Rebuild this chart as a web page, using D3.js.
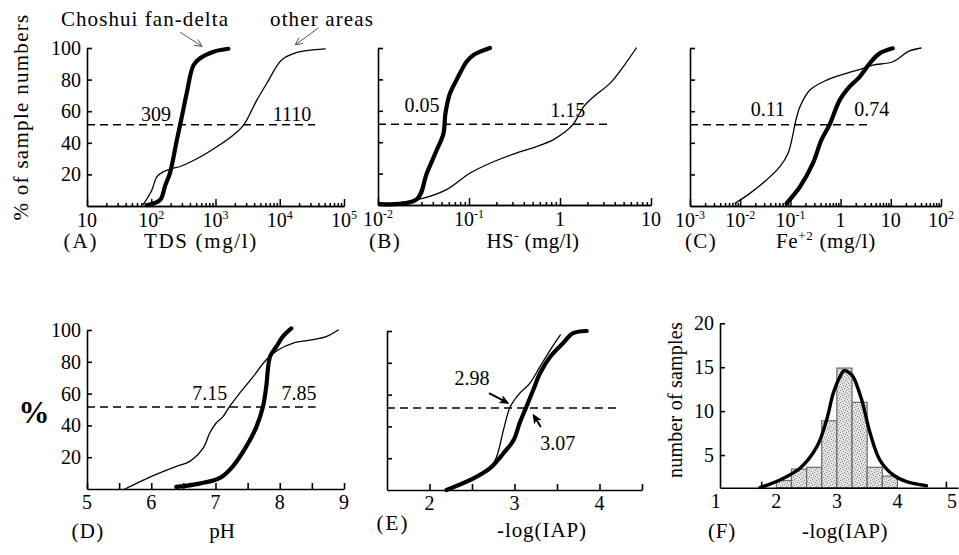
<!DOCTYPE html>
<html><head><meta charset="utf-8">
<script src="https://cdn.jsdelivr.net/npm/d3@7"></script>
<style>
html,body{margin:0;padding:0;background:#fff;}
svg{display:block;}
text{font-family:"Liberation Serif","Times New Roman",serif;fill:#000;}
</style></head><body>
<svg id="chart" width="959" height="555"></svg>
<script>
// ---------------- DATA ----------------
// (A) TDS (mg/l) cumulative % of samples
const tdsChoshui = [[85,0.5],[137,3.8],[165,13],[196,21],[251,42],[299,56.5],[355,71],[453,89],[575,93.5],[935,97.7],[1585,99.5]];
const tdsOther   = [[75,1],[102,10],[122,18.5],[154,21.7],[200,23.5],[282,25],[575,31],[1047,37.5],[1900,45],[2720,51],[4400,67],[6300,77.7],[10700,92.4],[18600,97.2],[51000,99.5]];
const tdsTicks = [10,100,1000,10000,100000];
const tdsTickLabels = [["10",""],["10","2"],["10","3"],["10","4"],["10","5"]];
// (B) HS- (mg/l)
const hsChoshui = [[0.0105,0.5],[0.0266,3.6],[0.0343,20],[0.0442,35],[0.0524,45.6],[0.055,58],[0.0617,71],[0.073,79.7],[0.0944,91.4],[0.112,95.6],[0.17,100]];
const hsOther   = [[0.0105,0],[0.0266,3.2],[0.056,9.6],[0.102,20.2],[0.17,26.6],[0.33,33],[0.55,37.2],[0.84,41.5],[1.09,45.8],[1.40,51.5],[1.82,62.7],[2.34,69],[3.56,77.6],[4.97,88.2],[6.9,100]];
const hsTicks = [0.01,0.1,1,10];
const hsTickLabels = [["10","-2"],["10","-1"],["1",""],["10",""]];
// (C) Fe+2 (mg/l)
const feChoshui = [[0.0836,1.7],[0.155,12.2],[0.28,27],[0.415,41.8],[0.607,51.7],[0.96,67],[1.51,75.5],[2.4,81.8],[3.8,90.3],[6.0,96.6],[11,99.8]];
const feOther   = [[0.0079,1.7],[0.0156,8],[0.0335,16.5],[0.0617,24.9],[0.09,33.4],[0.1135,46],[0.123,51.7],[0.155,62.8],[0.245,73.4],[0.53,79.7],[1.3,84],[2.8,87.1],[4.4,89.2],[11,91.3],[23,98],[40,100]];
const feTicks = [0.001,0.01,0.1,1,10,100];
const feTickLabels = [["10","-3"],["10","-2"],["10","-1"],["1",""],["10",""],["10","2"]];
// (D) pH
const phChoshui = [[6.39,1.3],[6.75,3.4],[7.07,7],[7.27,14.3],[7.48,26.8],[7.64,39.4],[7.74,52],[7.79,64.5],[7.85,83.4],[7.95,89.7],[8.05,96],[8.18,101]];
const phOther   = [[5.59,0],[5.98,7.5],[6.39,14.2],[6.6,17.4],[6.81,25.8],[6.91,35.2],[7.01,41.5],[7.12,45.7],[7.22,52],[7.38,60.4],[7.59,70.8],[7.79,81.3],[7.98,87.6],[8.21,91.8],[8.52,93.9],[8.73,96],[8.91,100]];
const phTicks = [5,6,7,8,9];
// (E) -log(IAP)
const iapChoshui = [[2.2,0],[2.48,6.3],[2.71,13.6],[2.87,23.1],[2.99,31.4],[3.06,42],[3.14,52.4],[3.22,62.9],[3.30,73.4],[3.42,83.8],[3.57,92.3],[3.69,98.6],[3.85,100]];
const iapOther   = [[2.2,0],[2.48,6.3],[2.71,13.6],[2.79,21],[2.87,37.7],[2.95,52.4],[3.06,60.8],[3.18,67.1],[3.30,77.6],[3.42,88],[3.54,97.5]];
const iapTicks = [2,3,4];
// (F) histogram of -log(IAP)
const binStarts = [2.0,2.25,2.5,2.75,3.0,3.25,3.5,3.75];
const binCounts = [2.1,3.4,3.6,8.9,14.9,11.0,3.6,2.6];
const fitCurve = [[1.73,1.3],[2.06,2.16],[2.39,3.49],[2.67,5.95],[2.83,8.99],[2.94,12.03],[3.05,13.9],[3.12,14.6],[3.2,14.4],[3.27,13.9],[3.41,11.27],[3.55,7.47],[3.71,4.43],[3.93,2.73],[4.15,1.96],[4.48,1.5]];
const histTicks = [1,2,3,4,5];
const countTicks = [5,10,15,20];
const pctTicks = [20,40,60,80,100];
const medianLevel = 51.5;

// ---------------- DRAW ----------------
const svg = d3.select("#chart");
const FS = 20, TFS = 21;

// stipple pattern for histogram bars
const pat = svg.append("defs").append("pattern").attr("id","stip")
  .attr("patternUnits","userSpaceOnUse").attr("width",6).attr("height",6);
pat.append("rect").attr("width",6).attr("height",6).attr("fill","#e2e2e2");
[[0,0],[3,1],[1,3],[4,4],[2,5],[5,2]].forEach(p=>pat.append("rect").attr("x",p[0]).attr("y",p[1]).attr("width",1).attr("height",1).attr("fill","#8a8a8a"));

function curve(g, x, y, data, w) {
  g.append("path").datum(data)
    .attr("fill","none").attr("stroke","#000").attr("stroke-width",w)
    .attr("stroke-linejoin","round").attr("stroke-linecap","round")
    .attr("d", d3.line().x(d=>x(d[0])).y(d=>y(d[1])).curve(d3.curveCatmullRom.alpha(0.5)));
}
function yAxis(g, x0, y, ticks, labels) {
  const ax = g.append("g").attr("transform",`translate(${x0},0)`)
    .call(d3.axisLeft(y).tickValues(ticks).tickSizeInner(-5).tickSizeOuter(0).tickPadding(6)
      .tickFormat(labels ? d3.format("d") : ""));
  ax.selectAll("path,line").attr("stroke","#000").attr("stroke-width",1.6);
  ax.selectAll("text").attr("font-size",FS).attr("font-family","Liberation Serif");
  return ax;
}
function logXAxis(g, x, y0) {
  const [d0,d1] = x.domain();
  const e0 = Math.round(Math.log10(d0)), e1 = Math.round(Math.log10(d1));
  const majors = d3.range(e0,e1+1).map(e=>Math.pow(10,e));
  const minors = [];
  for (let e=e0;e<e1;e++) for (let k=2;k<=9;k++) minors.push(k*Math.pow(10,e));
  const a1 = g.append("g").attr("transform",`translate(0,${y0})`)
    .call(d3.axisBottom(x).tickValues(minors).tickSizeInner(-3).tickSizeOuter(0).tickFormat(""));
  const a2 = g.append("g").attr("transform",`translate(0,${y0})`)
    .call(d3.axisBottom(x).tickValues(majors).tickSizeInner(-7).tickSizeOuter(0).tickFormat(""));
  [a1,a2].forEach(a=>a.selectAll("path,line").attr("stroke","#000").attr("stroke-width",1.5));
}
function logLabels(g, x, y0, ticks, labels) {
  ticks.forEach((t,i)=>{
    const tx = g.append("text").attr("x",x(t)).attr("y",y0+21).attr("text-anchor","middle").attr("font-size",FS);
    tx.append("tspan").text(labels[i][0]);
    if (labels[i][1]) tx.append("tspan").attr("dy",-8).attr("font-size",12).text(labels[i][1]);
  });
}
function linXAxis(g, x, y0, ticks, len) {
  const a = g.append("g").attr("transform",`translate(0,${y0})`)
    .call(d3.axisBottom(x).tickValues(ticks).tickSizeInner(-len).tickSizeOuter(0).tickFormat(""));
  a.selectAll("path,line").attr("stroke","#000").attr("stroke-width",1.6);
}
function linLabels(g, x, y0, ticks, xmax) {
  g.selectAll(null).data(ticks).enter().append("text")
    .attr("x",d=>Math.min(x(d), xmax||1e9)).attr("y",y0+20).attr("text-anchor","middle").attr("font-size",FS).text(d=>d);
}
function median(g, x, y, xEnd) {
  g.append("line").attr("x1",x(x.domain()[0])).attr("x2",x(xEnd))
    .attr("y1",y(medianLevel)).attr("y2",y(medianLevel))
    .attr("stroke","#000").attr("stroke-width",1.5).attr("stroke-dasharray","8,5");
}
function note(g, x, y, t, xv, yv) {
  g.append("text").attr("x",x(xv)).attr("y",y(yv)).attr("text-anchor","middle").attr("font-size",FS).text(t);
}
function fit(e, target) {
  const w = e.node().getComputedTextLength();
  const n = e.text().length;
  if (n > 1) e.attr("letter-spacing", ((target - w) / n).toFixed(2));
  return e;
}
function plain(t, px, py, opts={}) {
  const e = svg.append("text").attr("x",px).attr("y",py).attr("text-anchor","middle").attr("font-size",opts.fs||TFS);
  if (opts.rot) e.attr("transform",`rotate(-90,${px},${py})`);
  if (opts.bold) e.attr("font-weight","bold");
  if (Array.isArray(t)) {
    e.append("tspan").text(t[0]);
    e.append("tspan").attr("dy",-8).attr("font-size",13).text(t[1]);
    e.append("tspan").attr("dy",8).text(t[2]);
  } else e.text(t);
  if (opts.w) fit(e, opts.w);
  return e;
}
const THICK = 4.2, THIN = 1.3;

// ---- Panel A ----
{
  const g = svg.append("g");
  const x = d3.scaleLog().domain([10,1e5]).range([87,344]);
  const y = d3.scaleLinear().domain([0,100]).range([206,48]);
  median(g,x,y,35500);
  curve(g,x,y,tdsOther,THIN);
  curve(g,x,y,tdsChoshui,THICK);
  logXAxis(g,x,206);
  yAxis(g,87,y,pctTicks,true);
  logLabels(g,x,206,tdsTicks,tdsTickLabels);
  note(g,x,y,"309",119,54);
  note(g,x,y,"1110",15500,54);
  const arr = (x1,y1,x2,y2)=>{
    const X1=x(x1),Y1=y(y1),X2=x(x2),Y2=y(y2);
    const ang=Math.atan2(Y2-Y1,X2-X1), L=8, s=0.45;
    g.append("path").attr("fill","none").attr("stroke","#555").attr("stroke-width",1)
      .attr("d",`M${X1},${Y1}L${X2},${Y2}M${X2-L*Math.cos(ang-s)},${Y2-L*Math.sin(ang-s)}L${X2},${Y2}L${X2-L*Math.cos(ang+s)},${Y2-L*Math.sin(ang+s)}`);
  };
  arr(282,110,620,101);
  arr(40000,112.7,17400,102);
  plain("Choshui fan-delta",145,26,{w:168});
  plain("other areas",322,26,{w:104});
  plain("% of sample numbers",28,117,{rot:true,w:207});
  plain("(A)",81,248,{w:35});
  plain("TDS (mg/l)",201,248,{w:114});
}
// ---- Panel B ----
{
  const g = svg.append("g");
  const x = d3.scaleLog().domain([0.01,10]).range([378,651]);
  const y = d3.scaleLinear().domain([0,100]).range([205,48]);
  median(g,x,y,3.7);
  curve(g,x,y,hsOther,THIN);
  curve(g,x,y,hsChoshui,THICK);
  logXAxis(g,x,205);
  yAxis(g,378,y,pctTicks,false);
  logLabels(g,x,205,hsTicks,hsTickLabels);
  note(g,x,y,"0.05",0.0305,59.4);
  note(g,x,y,"1.15",1.22,56.2);
  plain("(B)",385,248,{w:32});
  plain(["HS","-"," (mg/l)"],533,248,{w:93});
}
// ---- Panel C ----
{
  const g = svg.append("g");
  const x = d3.scaleLog().domain([0.001,100]).range([690,941]);
  const y = d3.scaleLinear().domain([0,100]).range([206,48]);
  median(g,x,y,3.8);
  curve(g,x,y,feOther,THIN);
  curve(g,x,y,feChoshui,THICK);
  logXAxis(g,x,206);
  yAxis(g,690,y,pctTicks,false);
  logLabels(g,x,206,feTicks,feTickLabels);
  note(g,x,y,"0.11",0.0356,57);
  note(g,x,y,"0.74",4.15,57);
  plain("(C)",701,248,{w:32});
  plain(["Fe","+2"," (mg/l)"],826,248,{w:100});
}
// ---- Panel D ----
{
  const g = svg.append("g");
  const x = d3.scaleLinear().domain([5,9]).range([87,344]);
  const y = d3.scaleLinear().domain([0,100]).range([489,330]);
  median(g,x,y,8.56);
  curve(g,x,y,phOther,THIN);
  curve(g,x,y,phChoshui,THICK);
  linXAxis(g,x,489,d3.range(5,9.01,0.5),6);
  yAxis(g,87,y,pctTicks,true);
  linLabels(g,x,489,phTicks);
  note(g,x,y,"7.15",6.91,56);
  note(g,x,y,"7.85",8.30,56);
  plain("%",34,423,{fs:31,bold:true});
  plain("(D)",88,538,{w:33});
  plain("pH",222,538);
}
// ---- Panel E ----
{
  const g = svg.append("g");
  const x = d3.scaleLinear().domain([1.5,4.5]).range([387,642]);
  const y = d3.scaleLinear().domain([0,100]).range([490,331]);
  median(g,x,y,4.2);
  curve(g,x,y,iapOther,THIN);
  curve(g,x,y,iapChoshui,THICK);
  linXAxis(g,x,490,d3.range(2,4.51,0.5),6);
  yAxis(g,387,y,pctTicks,false);
  linLabels(g,x,490,iapTicks);
  note(g,x,y,"2.98",2.5,66);
  note(g,x,y,"3.07",3.51,25.2);
  const arr = (x1,y1,x2,y2)=>{
    const X1=x(x1),Y1=y(y1),X2=x(x2),Y2=y(y2);
    const ang=Math.atan2(Y2-Y1,X2-X1), L=9, s=0.4;
    g.append("line").attr("x1",X1).attr("y1",Y1).attr("x2",X2-3*Math.cos(ang)).attr("y2",Y2-3*Math.sin(ang))
      .attr("stroke","#000").attr("stroke-width",2);
    g.append("path").attr("fill","#000").attr("stroke","#000").attr("stroke-width",1)
      .attr("d",`M${X2},${Y2}L${X2-L*Math.cos(ang-s)},${Y2-L*Math.sin(ang-s)}L${X2-L*0.6*Math.cos(ang)},${Y2-L*0.6*Math.sin(ang)}L${X2-L*Math.cos(ang+s)},${Y2-L*Math.sin(ang+s)}Z`);
  };
  arr(2.70,61,2.93,54.5);
  arr(3.31,39.6,3.22,47.5);
  plain("(E)",393,530,{w:33});
  plain("-log(IAP)",542,537,{w:90});
}
// ---- Panel F ----
{
  const g = svg.append("g");
  const x = d3.scaleLinear().domain([1.07,5]).range([720,958]);
  const y = d3.scaleLinear().domain([1.28,20]).range([487.7,323.3]);
  g.selectAll("rect").data(binStarts).enter().append("rect")
    .attr("x",d=>x(d)).attr("width",d=>x(d+0.25)-x(d))
    .attr("y",(d,i)=>y(binCounts[i])).attr("height",(d,i)=>y(1.28)-y(binCounts[i]))
    .attr("fill","url(#stip)").attr("stroke","#6a6a6a").attr("stroke-width",1.2);
  curve(g,x,y,fitCurve,3.4);
  linXAxis(g,x,487.7,[1.75,4.8],6);
  yAxis(g,720,y,countTicks,true);
  linLabels(g,x,487.7,histTicks,952);
  plain("number of samples",682,400,{rot:true,fs:20,w:156});
  plain("(F)",722,538,{w:28});
  plain("-log(IAP)",845,538,{w:86});
}
</script>
</body></html>
